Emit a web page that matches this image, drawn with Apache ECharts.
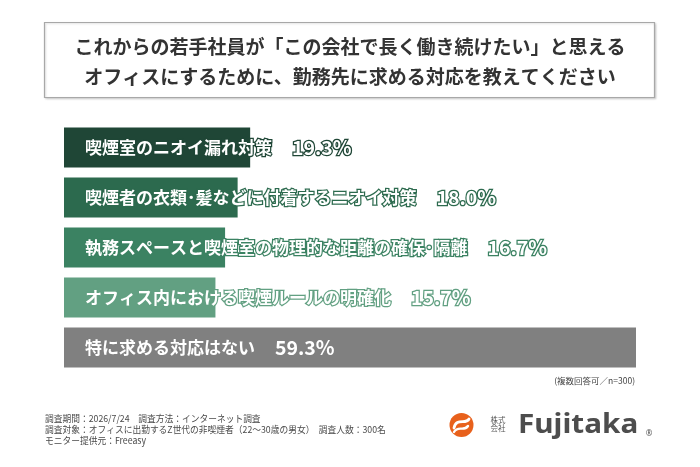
<!DOCTYPE html>
<html>
<head>
<meta charset="utf-8">
<script src="https://cdn.jsdelivr.net/npm/echarts@6/dist/echarts.min.js"></script>
<style>
html,body{margin:0;padding:0;background:#fff;}
#main{width:700px;height:467px;}
</style>
</head>
<body>
<div id="main"></div>
<script>
var categories = [
  '喫煙室のニオイ漏れ対策',
  '喫煙者の衣類･髪などに付着するニオイ対策',
  '執務スペースと喫煙室の物理的な距離の確保･隔離',
  'オフィス内における喫煙ルールの明確化',
  '特に求める対応はない'
];
var values = [19.3, 18.0, 16.7, 15.7, 59.3];
var barColors = ['#1f4636', '#2c6a4e', '#3b8262', '#62a082', '#808080'];
var titleLines = [
  'これからの若手社員が「この会社で長く働き続けたい」と思える',
  'オフィスにするために、勤務先に求める対応を教えてください'
];
var noteText = '(複数回答可／n=300)';
var footerLines = [
  '調査期間：2026/7/24　調査方法：インターネット調査',
  '調査対象：オフィスに出勤するZ世代の非喫煙者（22～30歳の男女）　調査人数：300名',
  'モニター提供元：Freeasy'
];

var FONT = '"Noto Sans CJK JP", "Noto Sans", sans-serif';

var chart = echarts.init(document.getElementById('main'), null, {renderer: 'canvas'});

var seriesData = values.map(function (v, i) {
  var last = i === values.length - 1;
  var bc = last ? 'transparent' : barColors[i];
  var bw = last ? 0 : 2.5;
  return {
    value: v,
    itemStyle: {color: barColors[i]},
    label: {
      rich: {
        n: {color: '#fff', fontFamily: FONT, fontWeight: 'bold', fontSize: 17, textBorderColor: bc, textBorderWidth: bw},
        p: {color: '#fff', fontFamily: FONT, fontWeight: 'bold', fontSize: 19.5, textBorderColor: bc, textBorderWidth: bw, padding: [0, 0, 0, 20]}
      }
    }
  };
});

var option = {
  backgroundColor: '#ffffff',
  animation: false,
  grid: {left: 64, right: 64, top: 122.5, height: 250, containLabel: false},
  xAxis: {type: 'value', min: 0, max: 59.3, show: false},
  yAxis: {type: 'category', data: categories, inverse: true, show: false},
  series: [{
    type: 'bar',
    data: seriesData,
    barWidth: 40,
    label: {
      show: true,
      position: 'insideLeft',
      distance: 21,
      color: '#ffffff',
      formatter: function (p) {
        return '{n|' + categories[p.dataIndex] + '}{p|' + values[p.dataIndex].toFixed(1) + '%}';
      }
    }
  }],
  graphic: [
    {
      type: 'rect', z: 1,
      shape: {x: 44.5, y: 22.5, width: 610, height: 75},
      style: {fill: '#fff', stroke: '#a8a8a8', lineWidth: 1.2,
        shadowBlur: 2, shadowColor: 'rgba(0,0,0,0.15)', shadowOffsetX: 1, shadowOffsetY: 1}
    },
    {
      type: 'text', z: 2, x: 350, y: 47,
      style: {text: titleLines[0], fill: '#333', font: 'bold 19px ' + FONT, align: 'center', verticalAlign: 'middle'}
    },
    {
      type: 'text', z: 2, x: 350, y: 77,
      style: {text: titleLines[1], fill: '#333', font: 'bold 19px ' + FONT, align: 'center', verticalAlign: 'middle'}
    },
    {
      type: 'text', z: 2, x: 635, y: 381,
      style: {text: noteText, fill: '#444', font: '8.5px ' + FONT, align: 'right', verticalAlign: 'middle'}
    },
    {
      type: 'text', z: 2, x: 45, y: 418, scaleX: 0.92,
      style: {text: footerLines[0], fill: '#4a4a4a', font: '9.5px ' + FONT, align: 'left', verticalAlign: 'middle'}
    },
    {
      type: 'text', z: 2, x: 45, y: 429, scaleX: 0.92,
      style: {text: footerLines[1], fill: '#4a4a4a', font: '9.5px ' + FONT, align: 'left', verticalAlign: 'middle'}
    },
    {
      type: 'text', z: 2, x: 45, y: 440, scaleX: 0.92,
      style: {text: footerLines[2], fill: '#4a4a4a', font: '9.5px ' + FONT, align: 'left', verticalAlign: 'middle'}
    },
    {
      type: 'circle', z: 2,
      shape: {cx: 461.5, cy: 425, r: 12},
      style: {fill: '#e8611c'}
    },
    {
      type: 'bezierCurve', z: 3,
      shape: {x1: 454, y1: 428, x2: 469, y2: 419, cpx1: 456, cpy1: 417, cpx2: 466, cpy2: 425},
      style: {stroke: '#fff', lineWidth: 2.8, fill: null, lineCap: 'round'}
    },
    {
      type: 'bezierCurve', z: 3,
      shape: {x1: 454, y1: 432, x2: 468, y2: 426, cpx1: 458, cpy1: 425, cpx2: 464, cpy2: 432},
      style: {stroke: '#fff', lineWidth: 2.4, fill: null, lineCap: 'round'}
    },
    {
      type: 'text', z: 2, x: 498, y: 420,
      style: {text: '株式', fill: '#555', font: '7.5px ' + FONT, align: 'center', verticalAlign: 'middle'}
    },
    {
      type: 'text', z: 2, x: 498, y: 428.5,
      style: {text: '会社', fill: '#555', font: '7.5px ' + FONT, align: 'center', verticalAlign: 'middle'}
    },
    {
      type: 'text', z: 2, x: 518, y: 439, scaleX: 1.1,
      style: {text: 'Fujitaka', fill: '#4d4d4d', font: 'bold 27px "Noto Sans", sans-serif', align: 'left', verticalAlign: 'bottom'}
    },
    {
      type: 'text', z: 2, x: 649, y: 434,
      style: {text: '®', fill: '#555', font: '8px "Noto Sans", sans-serif', align: 'center', verticalAlign: 'middle'}
    }
  ]
};
chart.setOption(option);
</script>
</body>
</html>
